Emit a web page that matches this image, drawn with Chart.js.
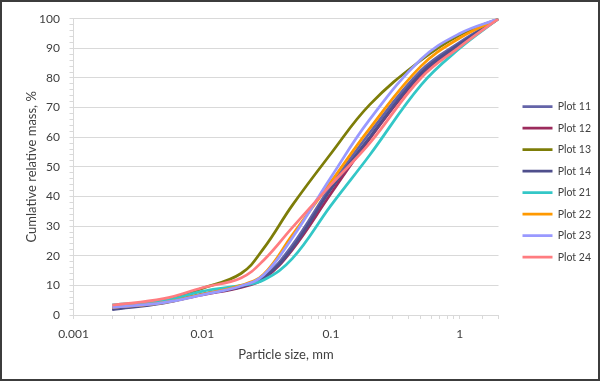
<!DOCTYPE html>
<html>
<head>
<meta charset="utf-8">
<script src="https://cdn.jsdelivr.net/npm/chart.js@4.4.1/dist/chart.umd.min.js"></script>
<style>
  body { margin: 0; background: #fff; }
  #box { position: relative; width: 596px; height: 377px; border: 2px solid #3c3c3c; }
</style>
</head>
<body>
<div id="box"><canvas id="psdChart"></canvas></div>

<script>
  // particle sizes (mm) where the curves were read
  const sizes = [0.002, 0.005, 0.01, 0.02, 0.03, 0.05, 0.1, 0.2, 0.5, 1, 2];

  // cumulative relative mass, %
  const plot11 = [2.0, 4.3, 7.0, 9.6, 12.8, 23.5, 43.5, 61.5, 82.5, 92.0, 100];
  const plot12 = [2.2, 4.2, 6.8, 9.3, 12.2, 22.0, 41.0, 59.5, 81.0, 91.0, 100];
  const plot13 = [2.6, 5.0, 9.0, 14.0, 22.5, 37.0, 54.5, 71.0, 86.0, 94.5, 100];
  const plot14 = [1.8, 4.0, 7.0, 9.5, 12.5, 22.5, 42.5, 60.0, 81.5, 91.5, 100];
  const plot21 = [3.4, 4.8, 8.0, 10.0, 11.8, 19.0, 37.0, 54.0, 77.6, 90.0, 100];
  const plot22 = [2.5, 4.2, 7.0, 10.0, 13.8, 27.0, 45.0, 63.0, 84.0, 93.5, 100];
  const plot23 = [2.6, 4.2, 6.8, 9.8, 13.5, 26.0, 46.5, 66.0, 86.3, 95.0, 100];
  const plot24 = [3.3, 5.5, 9.2, 12.5, 18.5, 29.5, 44.0, 58.0, 80.0, 90.5, 100];

  const seriesNames = ["Plot 11", "Plot 12", "Plot 13", "Plot 14", "Plot 21", "Plot 22", "Plot 23", "Plot 24"];
  const seriesValues = [plot11, plot12, plot13, plot14, plot21, plot22, plot23, plot24];
  const seriesColors = ["#6464a8", "#9c2b5c", "#7d7d08", "#4f4f8c", "#33c7c7", "#ff9900", "#9999ff", "#ff7c80"];

  const xTickLabels = ["0.001", "0.01", "0.1", "1"];
  const yTickLabels = [0, 10, 20, 30, 40, 50, 60, 70, 80, 90, 100];

  const textColor = "#404040";
  const gridColor = "#d9d9d9";
  Chart.defaults.font.family = "Lato, 'Open Sans', sans-serif";
  Chart.defaults.color = textColor;

  var datasets = [];
  for (let i = 0; i < seriesNames.length; i++) {
    datasets.push({
      label: seriesNames[i],
      data: sizes.map((s, j) => ({ x: s, y: seriesValues[i][j] })),
      borderColor: seriesColors[i],
      backgroundColor: seriesColors[i],
      borderWidth: 2.75,
      pointRadius: 0,
      tension: 0.4,
      order: seriesNames.length - i   // later plots drawn on top, like Excel
    });
  }

  new Chart("psdChart", {
    type: "line",
    data: { datasets: datasets },
    options: {
      responsive: true,
      maintainAspectRatio: false,
      animation: false,
      layout: { padding: { left: 0, top: 14, right: -3, bottom: 0 } },
      plugins: {
        tooltip: { enabled: false },
        legend: {
          position: "right",
          align: "start",
          title: { display: true, text: " ", padding: { top: 60, bottom: 0 } },
          labels: {
            usePointStyle: true,
            pointStyle: "line",
            pointStyleWidth: 30,
            padding: 11,
            color: textColor,
            font: { size: 10.5 },
            sort: (a, b) => a.datasetIndex - b.datasetIndex
          }
        }
      },
      scales: {
        x: {
          type: "logarithmic",
          min: 0.001,
          max: 2,
          afterFit: s => { s.height = 64; },
          border: { color: gridColor },
          grid: { drawOnChartArea: false, tickLength: 4, tickColor: gridColor },
          ticks: {
            autoSkip: false,
            maxRotation: 0,
            padding: 7.5,
            font: { size: 12 },
            callback: function (v) {
              const l = Math.log10(v);
              if (Math.abs(l - Math.round(l)) > 1e-9) return "";
              const k = Math.round(l) + 3;
              return xTickLabels[k] !== undefined ? xTickLabels[k] : "";
            }
          },
          title: { display: true, text: "Particle size, mm", font: { size: 13 }, padding: { top: 0, bottom: 16 } }
        },
        y: {
          min: 0,
          max: 100,
          afterFit: s => { s.width = 71.5; },
          border: { color: gridColor },
          grid: {
            tickLength: 4,
            tickColor: gridColor,
            color: c => (yTickLabels.includes(c.tick.value) ? gridColor : "rgba(0,0,0,0)")
          },
          ticks: {
            stepSize: 2,
            autoSkip: false,
            padding: 9.5,
            font: { size: 12 },
            callback: v => (yTickLabels.includes(v) ? v : "")
          },
          title: { display: true, text: "Cumlative relative mass, %", font: { size: 13 }, padding: { top: 22, bottom: 0 } }
        },
        // empty spacer between the plot area and the legend
        gap: {
          type: "linear",
          position: "right",
          display: true,
          afterFit: s => { s.width = 13; },
          border: { display: false },
          grid: { display: false },
          ticks: { display: false }
        }
      }
    }
  });
</script>
</body>
</html>
